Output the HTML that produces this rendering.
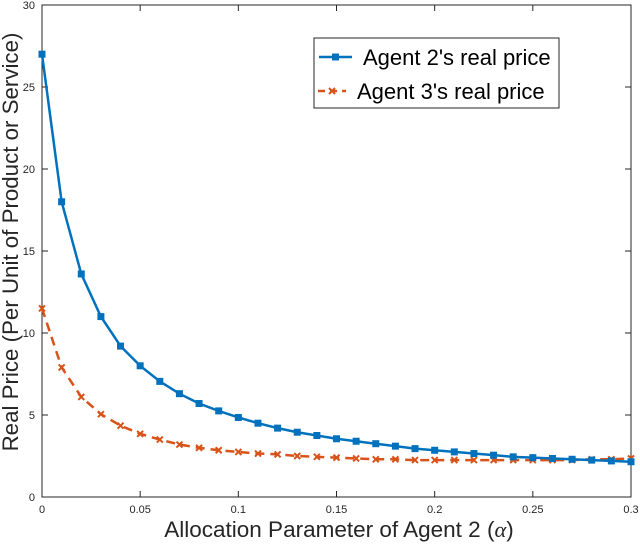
<!DOCTYPE html>
<html><head><meta charset="utf-8"><style>
body{margin:0;background:#fff;}
svg{display:block;font-family:"Liberation Sans",sans-serif;}
</style></head><body>
<svg id="chart" width="640" height="544"></svg>
<script>
const alphas=[0,0.01,0.02,0.03,0.04,0.05,0.06,0.07,0.08,0.09,0.10,0.11,0.12,0.13,0.14,0.15,0.16,0.17,0.18,0.19,0.20,0.21,0.22,0.23,0.24,0.25,0.26,0.27,0.28,0.29,0.30];
const agent2=[27,18,13.6,11,9.2,8,7.05,6.3,5.7,5.25,4.85,4.5,4.2,3.95,3.75,3.55,3.4,3.25,3.1,2.95,2.85,2.75,2.65,2.55,2.45,2.4,2.35,2.3,2.25,2.2,2.15];
const agent3=[11.5,7.9,6.1,5.05,4.35,3.85,3.5,3.2,3.0,2.85,2.75,2.65,2.6,2.5,2.45,2.4,2.35,2.3,2.3,2.25,2.25,2.25,2.25,2.25,2.25,2.25,2.25,2.25,2.3,2.3,2.35];
const xTicks=[0,0.05,0.1,0.15,0.2,0.25,0.3];
const xTickLabels=["0","0.05","0.1","0.15","0.2","0.25","0.3"];
const yTicks=[0,5,10,15,20,25,30];
const yTickLabels=["0","5","10","15","20","25","30"];
const L=42,R=631,T=5,B=497;
const sx=v=>L+(v-0)/(0.3)*(R-L);
const sy=v=>B-(v/30)*(B-T);
const svg=document.getElementById('chart');
const NS='http://www.w3.org/2000/svg';
function mk(tag,attrs,parent){const e=document.createElementNS(NS,tag);for(const k in attrs)e.setAttribute(k,attrs[k]);(parent||svg).appendChild(e);return e;}
let box=mk('rect',{x:L,y:T,width:R-L,height:B-T,fill:'none',stroke:'#262626','stroke-width':1});


xTicks.forEach((v,i)=>{
  const x=sx(v);
  mk('line',{x1:x,y1:B,x2:x,y2:B-6,stroke:'#262626'});
  mk('line',{x1:x,y1:T,x2:x,y2:T+6,stroke:'#262626'});
  const t=mk('text',{x:x,y:B+16,'text-anchor':'middle','font-size':11,fill:'#262626'});
  t.textContent=xTickLabels[i];
  
  
});
yTicks.forEach((v,i)=>{
  const y=sy(v);
  mk('line',{x1:L,y1:y,x2:L+6,y2:y,stroke:'#262626'});
  mk('line',{x1:R,y1:y,x2:R-6,y2:y,stroke:'#262626'});
  const t=mk('text',{x:L-7,y:y+4,'text-anchor':'end','font-size':11,fill:'#262626'});
  t.textContent=yTickLabels[i];
  
  
});
const p2=alphas.map((a,i)=>sx(a)+','+sy(agent2[i])).join(' ');
const p3=alphas.map((a,i)=>sx(a)+','+sy(agent3[i])).join(' ');
let l3=mk('polyline',{points:p3,fill:'none',stroke:'#D95319','stroke-width':2.5,'stroke-dasharray':'9,6'});


alphas.forEach((a,i)=>{
  const x=sx(a),y=sy(agent3[i]);
  const g=mk('path',{d:`M${x-3},${y-3}L${x+3},${y+3}M${x-3},${y+3}L${x+3},${y-3}`,stroke:'#D95319','stroke-width':2});
  
  
});
let l2=mk('polyline',{points:p2,fill:'none',stroke:'#0072BD','stroke-width':2.5});


alphas.forEach((a,i)=>{
  const r=mk('rect',{x:sx(a)-3.5,y:sy(agent2[i])-3.5,width:7,height:7,fill:'#0072BD'});
  
  
});
</script>
<svg style="position:absolute;left:0;top:0" width="640" height="544">
<g font-family="Liberation Sans, sans-serif">
<rect x="314" y="38" width="245" height="70" fill="#fff" stroke="#262626" stroke-width="1"/>
<line x1="319" y1="57" x2="352" y2="57" stroke="#0072BD" stroke-width="2.5"/>
<rect x="332" y="53.5" width="7" height="7" fill="#0072BD"/>
<text x="363" y="65" font-size="22" fill="#000">Agent 2's real price</text>
<line x1="318" y1="91" x2="346" y2="91" stroke="#D95319" stroke-width="2.5" stroke-dasharray="7,5"/>
<path d="M329,88L335,94M329,94L335,88" stroke="#D95319" stroke-width="2"/>
<text x="357" y="99" font-size="22" fill="#000">Agent 3's real price</text>
</g>
<text x="339" y="537" text-anchor="middle" font-size="22.5" fill="#262626" font-family="Liberation Sans, sans-serif">Allocation Parameter of Agent 2 (<tspan font-family="Liberation Serif, serif" font-style="italic">α</tspan>)</text>
<text transform="translate(18,242) rotate(-90)" text-anchor="middle" font-size="22.3" fill="#262626" font-family="Liberation Sans, sans-serif">Real Price (Per Unit of Product or Service)</text>
</svg>
</body></html>
